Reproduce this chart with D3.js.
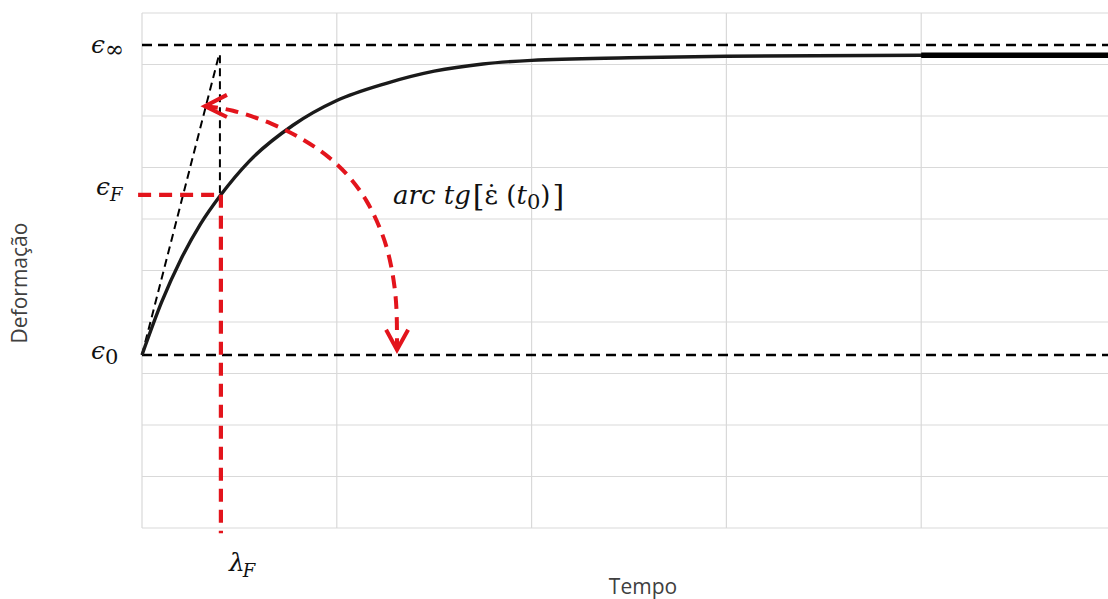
<!DOCTYPE html>
<html>
<head>
<meta charset="utf-8">
<script src="https://cdn.jsdelivr.net/npm/d3@7"></script>
<style>
  html, body { margin: 0; padding: 0; background: #ffffff; }
  svg { display: block; }
</style>
</head>
<body>
<svg id="chart" width="1108" height="599"></svg>
<script>
// Creep curve: deformation versus time (grid units)
const tempo      = [0, 0.1, 0.2, 0.3, 0.405, 0.55, 0.775, 1.0, 1.25, 1.5, 1.75, 2.0, 2.5, 3.0, 4.0, 5.0];
const deformacao = [3.36, 4.38, 5.22, 5.90, 6.47, 7.12, 7.82, 8.30, 8.63, 8.87, 9.01, 9.08, 9.13, 9.16, 9.18, 9.18];

// Gridline positions
const xTicks = [0, 1, 2, 3, 4, 5];
const yTicks = [0, 1, 2, 3, 4, 5, 6, 7, 8, 9, 10];

// Reference levels
const eps0 = 3.36;
const epsInf = 9.38;
const epsF = 6.47;
const lambdaF = 0.405;
const tangentTop = { t: 0.395, e: 9.18 };
const tailStart = 4.0;

// Angle arc (t, e) and its arrow heads
const arcT = [0.323, 0.452, 0.673, 0.838, 0.965, 1.068, 1.155, 1.222, 1.268, 1.299, 1.309, 1.309];
const arcE = [8.19, 8.14, 7.86, 7.53, 7.20, 6.82, 6.37, 5.84, 5.34, 4.68, 4.17, 3.52];
const headStartT = [0.436, 0.323, 0.436];
const headStartE = [8.41, 8.19, 7.98];
const headEndT = [1.253, 1.309, 1.366];
const headEndE = [3.85, 3.46, 3.85];

const svg = d3.select("#chart");
const x = d3.scaleLinear().domain([0, 5]).range([142, 1116]);
const y = d3.scaleLinear().domain([0, 10]).range([528, 13]);

const RED = "#e3141c";
const GRID = "#d9d9d9";

// Gridlines
const grid = svg.append("g");
grid.selectAll("line.h").data(yTicks).join("line")
  .attr("x1", x(0)).attr("x2", x(5))
  .attr("y1", d => y(d)).attr("y2", d => y(d))
  .attr("stroke", GRID).attr("stroke-width", 1.2);
grid.selectAll("line.v").data(xTicks).join("line")
  .attr("x1", d => x(d)).attr("x2", d => x(d))
  .attr("y1", y(0)).attr("y2", y(10))
  .attr("stroke", GRID).attr("stroke-width", 1.2);

const line = d3.line().x(d => x(d[0])).y(d => y(d[1]));

// Horizontal reference levels ε0 and ε∞
[eps0, epsInf].forEach(v => {
  svg.append("path")
    .attr("d", line([[0, v], [5, v]]))
    .attr("stroke", "#000").attr("stroke-width", 2.6)
    .attr("stroke-dasharray", "10,6").attr("fill", "none");
});

// Tangent at the origin and its vertical drop to ε_F
svg.append("path")
  .attr("d", line([[0, eps0], [tangentTop.t, tangentTop.e]]))
  .attr("stroke", "#000").attr("stroke-width", 2)
  .attr("stroke-dasharray", "8,5").attr("fill", "none");
svg.append("path")
  .attr("d", line([[tangentTop.t + 0.005, tangentTop.e], [tangentTop.t + 0.005, epsF]]))
  .attr("stroke", "#000").attr("stroke-width", 2)
  .attr("stroke-dasharray", "8,5").attr("fill", "none");

// Creep curve
const pts = tempo.map((t, i) => [t, deformacao[i]]);
const curve = d3.line().x(d => x(d[0])).y(d => y(d[1])).curve(d3.curveMonotoneX);
svg.append("path")
  .attr("d", curve(pts))
  .attr("stroke", "#1a1a1a").attr("stroke-width", 3.4).attr("fill", "none");
svg.append("path")
  .attr("d", curve(pts.filter(d => d[0] >= tailStart)))
  .attr("stroke", "#000").attr("stroke-width", 5.5).attr("fill", "none");

// Red markers for ε_F and λ_F
svg.append("path")
  .attr("d", line([[-0.02, epsF], [lambdaF, epsF]]))
  .attr("stroke", RED).attr("stroke-width", 4.2)
  .attr("stroke-dasharray", "13,8").attr("fill", "none");
svg.append("path")
  .attr("d", line([[lambdaF, epsF], [lambdaF, -0.1]]))
  .attr("stroke", RED).attr("stroke-width", 4.2)
  .attr("stroke-dasharray", "13,8").attr("fill", "none");

// Angle arc with arrows
const arcPts = arcT.map((t, i) => [t, arcE[i]]);
svg.append("path")
  .attr("d", d3.line().x(d => x(d[0])).y(d => y(d[1])).curve(d3.curveBasis)(arcPts))
  .attr("stroke", RED).attr("stroke-width", 4)
  .attr("stroke-dasharray", "13,8").attr("fill", "none");
[[headStartT, headStartE], [headEndT, headEndE]].forEach(([ts, es]) => {
  svg.append("path")
    .attr("d", line(ts.map((t, i) => [t, es[i]])))
    .attr("stroke", RED).attr("stroke-width", 4)
    .attr("stroke-linejoin", "miter").attr("fill", "none");
});

// Math labels
const MATH = "'DejaVu Serif', 'Liberation Serif', serif";
function mathLabel(px, py, main, sub, opts) {
  const t = svg.append("text")
    .attr("x", px).attr("y", py)
    .attr("font-family", MATH).attr("fill", "#111");
  t.append("tspan").attr("font-size", opts.mainSize).attr("font-style", "italic").text(main);
  t.append("tspan").attr("font-size", opts.subSize).attr("font-style", opts.subItalic ? "italic" : "normal")
    .attr("dy", opts.subDy).attr("dx", opts.subDx || 0).text(sub);
}
mathLabel(x(0) - 51, y(epsInf) + 8, "\u03f5", "\u221e", { mainSize: 25, subSize: 23, subDy: 4, subDx: 0 });
mathLabel(x(0) - 46, y(epsF) + 0, "\u03f5", "F", { mainSize: 25, subSize: 18, subDy: 6, subItalic: true });
mathLabel(x(0) - 51, y(eps0) + 4, "\u03f5", "0", { mainSize: 25, subSize: 21, subDy: 5 });
mathLabel(x(lambdaF) + 8, 571, "\u03bb", "F", { mainSize: 25, subSize: 18, subDy: 6, subItalic: true, subDx: -2 });

// Slope annotation: arc tg[ε̇ (t0)]
const ann = svg.append("text")
  .attr("x", 393).attr("y", 204)
  .attr("font-family", MATH).attr("font-size", 26).attr("fill", "#111");
ann.append("tspan").attr("font-style", "italic").text("arc tg");
ann.append("tspan").attr("font-size", 30).attr("dy", 2).attr("dx", 2).text("[");
ann.append("tspan").attr("dy", -2).text("\u03b5\u0307 (");
ann.append("tspan").attr("font-style", "italic").text("t");
ann.append("tspan").attr("font-size", 21).attr("dy", 5).text("0");
ann.append("tspan").attr("dy", -5).text(")");
ann.append("tspan").attr("font-size", 30).attr("dy", 2).attr("dx", 2).text("]");

// Axis titles
svg.append("text")
  .attr("x", 643).attr("y", 594)
  .attr("text-anchor", "middle")
  .attr("font-family", "'Open Sans', sans-serif").attr("font-size", 21)
  .attr("fill", "#404040").text("Tempo");
svg.append("text")
  .attr("transform", "translate(27,283) rotate(-90)")
  .attr("text-anchor", "middle")
  .attr("font-family", "'Open Sans', sans-serif").attr("font-size", 21)
  .attr("fill", "#404040").text("Deformação");
</script>
</body>
</html>
